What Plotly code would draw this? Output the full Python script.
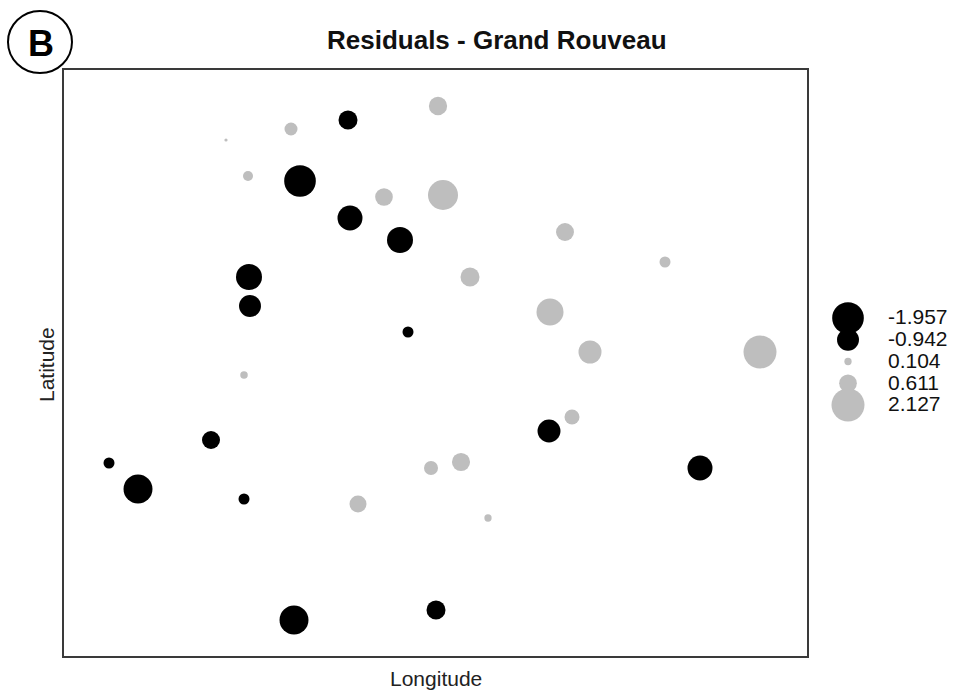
import numpy as np
import plotly.graph_objects as go

# ---- data (local coordinates, arbitrary units) ----
lon = [162, 227, 284, 374, 184, 236, 320, 379, 286, 336, 185, 186, 344,
       501, 601, 406, 486, 526, 696, 180, 147, 45, 74, 180, 294, 367, 230,
       372, 508, 485, 397, 424, 636]
lat = [516, 527, 536, 550, 480, 475, 459, 461, 438, 416, 379, 350, 324,
       424, 394, 379, 344, 304, 304, 281, 216, 193, 167, 157, 152, 188, 36,
       46, 239, 225, 194, 138, 188]
resid = [0.020, 0.330, -0.705, 0.652, 0.195, -1.957, 0.611, 1.760, -1.220,
         -1.320, -1.320, -0.942, -0.236, 0.628, 0.236, 0.705, 1.424, 1.033,
         2.127, 0.110, -0.633, -0.236, -1.640, -0.236, 0.564, 0.383, -1.640,
         -0.705, 0.440, -1.030, 0.640, 0.104, -1.220]
legend_values = [-1.957, -0.942, 0.104, 0.611, 2.127]
legend_labels = ["-1.957", "-0.942", "0.104", "0.611", "2.127"]

title_text = "Residuals - Grand Rouveau"
xlab = "Longitude"
ylab = "Latitude"
panel = "B"

# ---- styling ----
W, H = 953, 690
BLACK = "#000000"
GREY = "#BEBEBE"
FONT = "Liberation Sans, Arial, sans-serif"
max_abs = max(abs(v) for v in resid)
max_diam = 33
sizeref = 2.0 * max_abs / max_diam ** 2

resid = np.array(resid)
cols = np.where(resid < 0, BLACK, GREY)

fig = go.Figure()
fig.add_trace(go.Scatter(
    x=lon, y=lat, mode="markers",
    marker=dict(size=np.abs(resid), sizemode="area", sizeref=sizeref,
                color=list(cols), line=dict(width=0), opacity=1),
    hoverinfo="skip", showlegend=False))

# legend drawn on its own axes (pixel units)
lg_x = 848
lg_y0, lg_step = 318, 21.75
lg_y = [lg_y0 + i * lg_step for i in range(len(legend_values))]
lv = np.array(legend_values)
fig.add_trace(go.Scatter(
    x=[lg_x] * len(lv), y=lg_y, mode="markers",
    marker=dict(size=np.abs(lv), sizemode="area", sizeref=sizeref, opacity=1,
                color=[BLACK if v < 0 else GREY for v in lv], line=dict(width=0)),
    xaxis="x2", yaxis="y2", hoverinfo="skip", showlegend=False))
fig.add_trace(go.Scatter(
    x=[888] * len(lv), y=[y + 1 for y in lg_y], mode="text",
    text=legend_labels, textposition="middle right",
    textfont=dict(family=FONT, size=21, color="#111111"),
    xaxis="x2", yaxis="y2", hoverinfo="skip", showlegend=False))

x0p, x1p, y0p, y1p = 64, 807, 70, 656
fig.update_layout(
    width=W, height=H, margin=dict(l=0, r=0, t=0, b=0),
    paper_bgcolor="white", plot_bgcolor="white",
    xaxis=dict(domain=[x0p / W, x1p / W], range=[0, x1p - x0p],
               showticklabels=False, ticks="", showgrid=False, zeroline=False,
               showline=True, mirror=True, linecolor="#3a3a3a", linewidth=1.5),
    yaxis=dict(domain=[(H - y1p) / H, (H - y0p) / H], range=[0, y1p - y0p],
               showticklabels=False, ticks="", showgrid=False, zeroline=False,
               showline=True, mirror=True, linecolor="#3a3a3a", linewidth=1.5),
    xaxis2=dict(domain=[815 / W, 1], range=[815, W], visible=False),
    yaxis2=dict(domain=[0, 1], range=[H, 0], visible=False),
)

fig.add_annotation(text="<b>" + title_text + "</b>", x=325 / W, y=1 - 40 / H,
                   xref="paper", yref="paper", xanchor="left", yanchor="middle",
                   showarrow=False, font=dict(family=FONT, size=26, color="#111111"))
fig.add_annotation(text=xlab, x=(x0p + x1p) / 2 / W, y=1 - 678 / H,
                   xref="paper", yref="paper", xanchor="center", yanchor="middle",
                   showarrow=False, font=dict(family=FONT, size=21, color="#222222"))
fig.add_annotation(text=ylab, x=46 / W, y=1 - 365 / H, textangle=-90,
                   xref="paper", yref="paper", xanchor="center", yanchor="middle",
                   showarrow=False, font=dict(family=FONT, size=21, color="#222222"))
# panel label
fig.add_shape(type="circle", xref="paper", yref="paper",
              x0=8 / W, x1=72 / W, y0=1 - 73 / H, y1=1 - 11 / H,
              line=dict(color="black", width=2))
fig.add_annotation(text="<b>" + panel + "</b>", x=40.5 / W, y=1 - 43 / H,
                   xref="paper", yref="paper", xanchor="center", yanchor="middle",
                   showarrow=False, font=dict(family=FONT, size=36, color="black"))

fig.write_html("out.html", config={"displayModeBar": False},
               post_script="document.body.style.margin='0px';"
                           "document.body.style.overflow='hidden';")
